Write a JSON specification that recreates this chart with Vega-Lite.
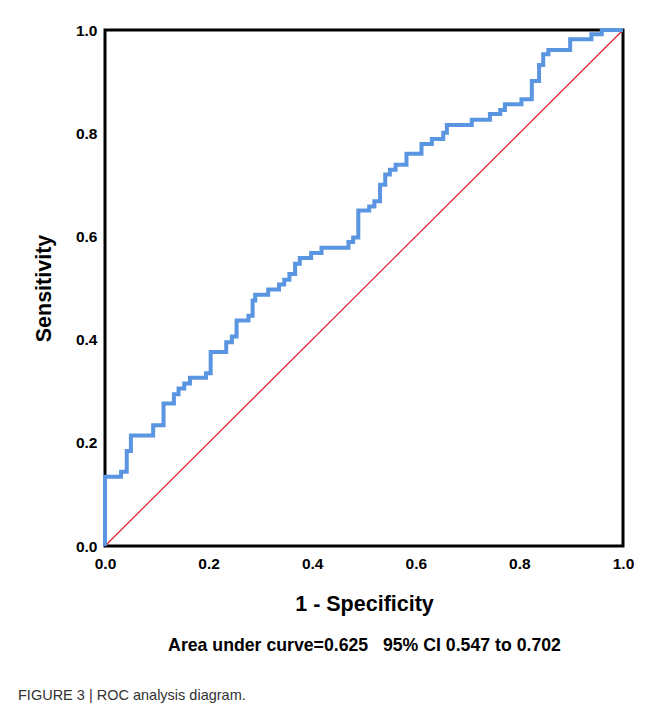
{
  "$schema": "https://vega.github.io/schema/vega-lite/v6.json",
  "autosize": {"type": "none"},
  "padding": {"left": 105, "top": 30, "right": 32, "bottom": 170},
  "width": 518,
  "height": 516,
  "background": "white",
  "config": {
    "view": {"stroke": "black", "strokeWidth": 3},
    "font": "Liberation Sans"
  },
  "title": {
    "text": "FIGURE 3 | ROC analysis diagram.",
    "orient": "bottom",
    "anchor": "start",
    "frame": "group",
    "dx": -87,
    "offset": 35,
    "font": "Liberation Sans",
    "fontSize": 14.5,
    "fontWeight": "normal",
    "color": "#333333"
  },
  "encoding": {
    "y": {
      "field": "tpr",
      "type": "quantitative",
      "scale": {"domain": [0, 1], "nice": false},
      "axis": {
        "title": "Sensitivity",
        "values": [0, 0.2, 0.4, 0.6, 0.8, 1.0],
        "format": ".1f",
        "grid": false,
        "ticks": false,
        "tickSize": 0,
        "domain": false,
        "labelFlush": false,
        "labelPadding": 8,
        "labelFontSize": 15.5,
        "labelFontWeight": "bold",
        "labelColor": "black",
        "titleFontSize": 21.5,
        "titleFontWeight": "bold",
        "titleColor": "black",
        "titlePadding": 20
      }
    }
  },
  "layer": [
    {
      "data": {"values": [{"fpr": 0, "tpr": 0}, {"fpr": 1, "tpr": 1}]},
      "mark": {"type": "line", "color": "#E31A2B", "strokeWidth": 1.2},
      "encoding": {
        "x": {
          "field": "fpr",
          "type": "quantitative",
          "scale": {"domain": [0, 1], "nice": false},
          "axis": {
            "orient": "bottom",
            "title": "Area under curve=0.625\u00a0\u00a0\u00a095% CI 0.547 to 0.702",
            "labels": false,
            "ticks": false,
            "tickSize": 0,
            "domain": false,
            "grid": false,
            "titleFontSize": 17.7,
            "titleFontWeight": "bold",
            "titleColor": "black",
            "titlePadding": 90
          }
        }
      }
    },
    {
      "data": {"values": [
        {"fpr": 0, "tpr": 0}, {"fpr": 0, "tpr": 0.134}, {"fpr": 0.031, "tpr": 0.144}, {"fpr": 0.042, "tpr": 0.184},
        {"fpr": 0.050, "tpr": 0.214}, {"fpr": 0.093, "tpr": 0.234}, {"fpr": 0.113, "tpr": 0.276}, {"fpr": 0.133, "tpr": 0.294},
        {"fpr": 0.142, "tpr": 0.305}, {"fpr": 0.153, "tpr": 0.315}, {"fpr": 0.164, "tpr": 0.326}, {"fpr": 0.195, "tpr": 0.335},
        {"fpr": 0.204, "tpr": 0.376}, {"fpr": 0.234, "tpr": 0.395}, {"fpr": 0.245, "tpr": 0.406}, {"fpr": 0.254, "tpr": 0.437},
        {"fpr": 0.277, "tpr": 0.446}, {"fpr": 0.285, "tpr": 0.476}, {"fpr": 0.290, "tpr": 0.487}, {"fpr": 0.315, "tpr": 0.497},
        {"fpr": 0.336, "tpr": 0.507}, {"fpr": 0.346, "tpr": 0.516}, {"fpr": 0.356, "tpr": 0.527}, {"fpr": 0.367, "tpr": 0.547},
        {"fpr": 0.376, "tpr": 0.558}, {"fpr": 0.398, "tpr": 0.568}, {"fpr": 0.418, "tpr": 0.578}, {"fpr": 0.470, "tpr": 0.589},
        {"fpr": 0.479, "tpr": 0.598}, {"fpr": 0.489, "tpr": 0.650}, {"fpr": 0.510, "tpr": 0.658}, {"fpr": 0.520, "tpr": 0.668},
        {"fpr": 0.531, "tpr": 0.700}, {"fpr": 0.541, "tpr": 0.720}, {"fpr": 0.550, "tpr": 0.729}, {"fpr": 0.561, "tpr": 0.739},
        {"fpr": 0.582, "tpr": 0.760}, {"fpr": 0.611, "tpr": 0.779}, {"fpr": 0.631, "tpr": 0.789}, {"fpr": 0.653, "tpr": 0.801},
        {"fpr": 0.660, "tpr": 0.816}, {"fpr": 0.708, "tpr": 0.826}, {"fpr": 0.743, "tpr": 0.837}, {"fpr": 0.763, "tpr": 0.845},
        {"fpr": 0.772, "tpr": 0.856}, {"fpr": 0.804, "tpr": 0.866}, {"fpr": 0.824, "tpr": 0.901}, {"fpr": 0.838, "tpr": 0.932},
        {"fpr": 0.846, "tpr": 0.953}, {"fpr": 0.856, "tpr": 0.961}, {"fpr": 0.898, "tpr": 0.982}, {"fpr": 0.939, "tpr": 0.992},
        {"fpr": 0.959, "tpr": 1.0}, {"fpr": 1.0, "tpr": 1.0}
      ]},
      "mark": {"type": "line", "color": "#5A95E2", "strokeWidth": 4, "interpolate": "step-after"},
      "encoding": {
        "x": {
          "field": "fpr",
          "type": "quantitative",
          "scale": {"domain": [0, 1], "nice": false},
          "axis": {
            "orient": "bottom",
            "title": "1 - Specificity",
            "values": [0, 0.2, 0.4, 0.6, 0.8, 1.0],
            "format": ".1f",
            "grid": false,
            "ticks": false,
            "tickSize": 0,
            "domain": false,
            "labelFlush": false,
            "labelPadding": 10,
            "labelFontSize": 15.5,
            "labelFontWeight": "bold",
            "labelColor": "black",
            "titleFontSize": 21.5,
            "titleFontWeight": "bold",
            "titleColor": "black",
            "titlePadding": 22
          }
        }
      }
    }
  ],
  "resolve": {"axis": {"x": "independent"}}
}
